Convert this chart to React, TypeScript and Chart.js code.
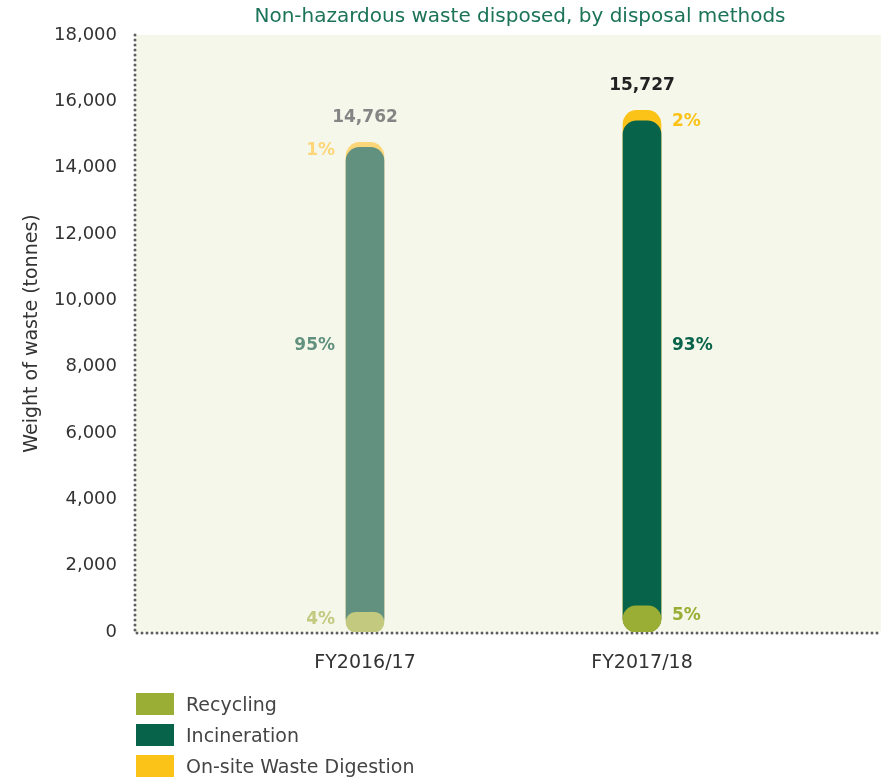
import React, { useEffect, useRef } from 'react';
import { Chart, registerables } from 'chart.js';

Chart.register(...registerables);

const categories = ['FY2016/17', 'FY2017/18'];
const recycling = [590, 786];
const incineration = [14024, 14626];
const digestion = [148, 315];
const seriesNames = ['Recycling', 'Incineration', 'On-site Waste Digestion'];
const chartTitle = 'Non-hazardous waste disposed, by disposal methods';
const yAxisTitle = 'Weight of waste (tonnes)';

// colours per category (first year faded)
const recyclingColors = ['#c3ca80', '#9aad34'];
const incinerationColors = ['#62927f', '#08634b'];
const digestionColors = ['#fdd67a', '#fbc217'];
const totalColors = ['#858585', '#222222'];
const legendColors = ['#9aad34', '#08634b', '#fbc217'];

const FONT = '"DejaVu Sans", "Liberation Sans", sans-serif';

const totals = categories.map((_, i) => recycling[i] + incineration[i] + digestion[i]);
const pct = (v: number, i: number) => Math.round((v / totals[i]) * 100) + '%';

export default function App() {
  const canvasRef = useRef<HTMLCanvasElement | null>(null);

  useEffect(() => {
    const canvas = canvasRef.current;
    if (!canvas) return;

    const bgPlugin = {
      id: 'bgPlugin',
      beforeDraw(chart: any) {
        const { ctx, chartArea } = chart;
        ctx.save();
        ctx.fillStyle = '#f5f7ea';
        ctx.fillRect(chartArea.left, chartArea.top, chartArea.right - chartArea.left, chartArea.bottom - chartArea.top);
        ctx.restore();
      },
    };

    const axisPlugin = {
      id: 'axisPlugin',
      beforeDatasetsDraw(chart: any) {
        const { ctx, chartArea } = chart;
        ctx.save();
        ctx.strokeStyle = '#5f5f5f';
        ctx.lineWidth = 3;
        ctx.lineCap = 'round';
        ctx.setLineDash([0, 5]);
        ctx.beginPath();
        ctx.moveTo(chartArea.left - 1, chartArea.top);
        ctx.lineTo(chartArea.left - 1, chartArea.bottom + 1);
        ctx.lineTo(chartArea.right, chartArea.bottom + 1);
        ctx.stroke();
        ctx.restore();
      },
    };

    const titlePlugin = {
      id: 'titlePlugin',
      afterDraw(chart: any) {
        const { ctx } = chart;
        ctx.save();
        ctx.font = `20px ${FONT}`;
        ctx.fillStyle = '#1b7358';
        ctx.textAlign = 'center';
        ctx.textBaseline = 'middle';
        ctx.fillText(chartTitle, 520, 17);
        ctx.restore();
      },
    };

    const labelPlugin = {
      id: 'labelPlugin',
      afterDatasetsDraw(chart: any) {
        const { ctx, chartArea } = chart;
        const xs = chart.scales.x;
        const ys = chart.scales.y;
        ctx.save();
        ctx.textBaseline = 'middle';
        categories.forEach((_, i) => {
          const cx = xs.getPixelForValue(i);
          const left = i === 0;
          const lx = left ? cx - 19 - 11 : cx + 19 + 11;
          ctx.textAlign = left ? 'right' : 'left';
          ctx.font = `bold 17px ${FONT}`;
          // digestion
          const yTop = ys.getPixelForValue(totals[i]);
          const yDig = ys.getPixelForValue(recycling[i] + incineration[i]);
          ctx.fillStyle = digestionColors[i];
          ctx.fillText(pct(digestion[i], i), lx, (yTop + yDig) / 2 + 6);
          // incineration
          ctx.fillStyle = incinerationColors[i];
          ctx.fillText(pct(incineration[i], i), lx, (chartArea.top + chartArea.bottom) / 2 + 12);
          // recycling
          const yRec = ys.getPixelForValue(recycling[i]);
          const y0 = ys.getPixelForValue(0);
          ctx.fillStyle = recyclingColors[i];
          ctx.fillText(pct(recycling[i], i), lx, (yRec + y0) / 2 - 3);
          // total
          ctx.textAlign = 'center';
          ctx.font = `bold 17px ${FONT}`;
          ctx.fillStyle = totalColors[i];
          ctx.fillText(totals[i].toLocaleString('en-US'), cx, yTop - 25);
        });
        ctx.restore();
      },
    };

    const mk = (vals: number[]) => vals.map((v, i) => ({ x: i, y: v }));

    const common = {
      grouped: false,
      barThickness: 38,
      borderSkipped: false,
      borderWidth: 0,
    };

    const chart = new Chart(canvas, {
      type: 'bar',
      data: {
        datasets: [
          {
            ...common,
            label: seriesNames[0],
            data: mk(recycling),
            backgroundColor: recyclingColors,
            borderRadius: 19,
          },
          {
            ...common,
            label: seriesNames[1],
            data: mk(categories.map((_, i) => recycling[i] + incineration[i])),
            backgroundColor: incinerationColors,
            borderRadius: 14,
          },
          {
            ...common,
            label: seriesNames[2],
            data: mk(totals),
            backgroundColor: digestionColors,
            borderRadius: 14,
          },
        ] as any,
      },
      options: {
        animation: false,
        responsive: false,
        maintainAspectRatio: false,
        layout: { padding: { top: 35, left: 0, right: 0, bottom: 0 } },
        plugins: {
          legend: { display: false },
          tooltip: { enabled: false },
          title: { display: false },
        },
        scales: {
          x: {
            type: 'linear',
            offset: false,
            min: -0.8267,
            max: 1.8628,
            grid: { display: false, drawTicks: false },
            border: { display: false },
            afterBuildTicks: (scale: any) => {
              scale.ticks = categories.map((_, i) => ({ value: i }));
            },
            afterFit: (scale: any) => {
              scale.height = 148;
            },
            ticks: {
              autoSkip: false,
              maxRotation: 0,
              padding: 20,
              color: '#333333',
              font: { family: FONT, size: 19 },
              callback: (v: any) => categories[v as number] ?? '',
            },
          },
          y: {
            min: 0,
            max: 18000,
            grid: { display: false, drawTicks: false },
            border: { display: false },
            afterFit: (scale: any) => {
              scale.width = 136;
            },
            ticks: {
              stepSize: 2000,
              padding: 19,
              color: '#333333',
              font: { family: FONT, size: 18 },
              callback: (v: any) => Number(v).toLocaleString('en-US'),
            },
            title: {
              display: true,
              text: yAxisTitle,
              color: '#333333',
              font: { family: FONT, size: 19 },
              padding: { top: 21, bottom: 0 },
            },
          },
        },
      },
      plugins: [bgPlugin, axisPlugin, titlePlugin, labelPlugin],
    } as any);

    return () => chart.destroy();
  }, []);

  return (
    <div style={{ position: 'relative', width: 881, height: 780 }}>
      <style>{'body{margin:0}'}</style>
      <canvas ref={canvasRef} width={881} height={780} style={{ display: 'block', width: 881, height: 780 }} />
      {seriesNames.map((name, i) => (
        <div
          key={name}
          style={{
            position: 'absolute',
            left: 136,
            top: 693 + i * 31,
            height: 22,
            display: 'flex',
            alignItems: 'center',
            fontFamily: FONT,
            fontSize: 19,
            color: '#444',
          }}
        >
          <span style={{ display: 'inline-block', width: 38, height: 22, background: legendColors[i], marginRight: 12 }} />
          <span>{name}</span>
        </div>
      ))}
    </div>
  );
}
